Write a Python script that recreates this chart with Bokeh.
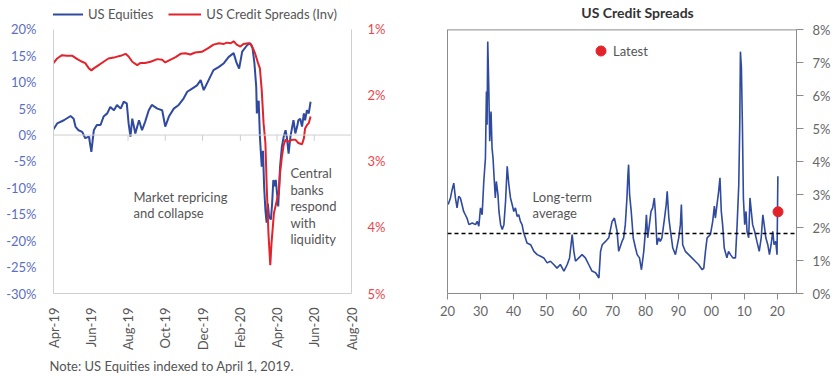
import math
import pandas as pd
from bokeh.plotting import figure
from bokeh.layouts import row
from bokeh.models import (Range1d, LinearAxis, FixedTicker, PrintfTickFormatter,
                          Legend, LegendItem, Label, Span, Title)
from bokeh.embed import file_html
from bokeh.resources import INLINE

FONT = "Lato"
BLUE = "#2f4a9e"
RED = "#e3232b"
GRID_L = "#cfcfcf"
GRID_R = "#8c8c8c"
TXT = "#555555"

# ---------------- data: left chart ----------------
start_date = "2019-04-01"
end_date = "2020-08-01"

eq_days = [0, 6, 17, 28, 33, 36, 41, 47, 52, 58, 62, 66, 71, 77, 82, 88, 93, 99, 104, 110,
           115, 120, 123, 126, 129, 134, 140, 145, 150, 156, 161, 170, 178, 183, 189, 197,
           205, 213, 219, 227, 235, 241, 246, 254, 262, 271, 279, 287, 295, 300, 304, 309,
           317, 322, 326, 329, 332, 333, 336, 338, 341, 343, 345, 347, 349, 351, 353, 356,
           358, 360, 362, 364, 366, 368, 371, 374, 377, 380, 382, 385, 388, 391, 393, 396,
           399, 401, 404, 407, 410, 412, 415, 418, 421]
eq_vals = [1.1, 2.2, 2.8, 3.6, 3.1, 1.6, 0.9, 0.6, -0.6, -0.3, -3.2, 0.9, 1.9, 1.9, 3.5, 4.1,
           5.3, 4.7, 5.7, 5.0, 6.3, 6.0, 2.2, -0.3, 3.1, 0.3, 2.8, 0.9, 2.5, 4.7, 5.7, 5.0,
           4.7, 1.6, 3.5, 5.0, 5.7, 6.9, 8.2, 8.8, 9.4, 10.4, 8.5, 10.4, 12.3, 12.9, 13.6,
           14.8, 15.5, 13.6, 12.6, 15.8, 17.0, 17.4, 16.4, 13.6, 9.1, 4.1, 6.5, -0.3, -6.0,
           -3.0, -10.0, -14.2, -16.6, -13.0, -15.5, -16.0, -13.0, -8.5, -9.7, -8.5, -11.0,
           -13.5, -6.0, -2.2, -0.3, 0.9, -0.3, -3.5, -0.3, 1.6, 2.8, 0.3, 1.6, 2.8, 3.1, 1.6,
           4.1, 2.8, 4.7, 4.1, 6.3]

cs_days = [0, 6, 14, 22, 31, 39, 47, 52, 58, 62, 66, 74, 82, 90, 101, 110, 118, 123, 129,
           137, 142, 150, 159, 170, 178, 183, 191, 200, 208, 216, 224, 232, 243, 254, 262,
           271, 279, 284, 290, 295, 300, 306, 311, 319, 324, 330, 335, 338, 341, 344, 347,
           349, 352, 355, 357, 361, 366, 369, 371, 374, 377, 380, 385, 391, 396, 401, 407,
           410, 412, 415, 418, 421]
cs_vals = [1.51, 1.44, 1.39, 1.40, 1.40, 1.45, 1.49, 1.51, 1.59, 1.62, 1.59, 1.54, 1.49,
           1.44, 1.42, 1.40, 1.37, 1.41, 1.49, 1.54, 1.51, 1.51, 1.49, 1.45, 1.46, 1.50,
           1.46, 1.42, 1.37, 1.36, 1.38, 1.35, 1.34, 1.28, 1.23, 1.21, 1.22, 1.20, 1.21,
           1.18, 1.23, 1.26, 1.22, 1.21, 1.23, 1.36, 1.51, 1.59, 1.92, 2.42, 2.72, 3.33,
           4.09, 4.57, 4.24, 3.78, 3.58, 3.48, 3.18, 2.93, 2.75, 2.67, 2.70, 2.67, 2.67,
           2.72, 2.74, 2.65, 2.50, 2.45, 2.42, 2.32]

month_ticks = ["2019-04-01", "2019-06-01", "2019-08-01", "2019-10-01", "2019-12-01",
               "2020-02-01", "2020-04-01", "2020-06-01", "2020-08-01"]
month_labels = ["Apr-19", "Jun-19", "Aug-19", "Oct-19", "Dec-19", "Feb-20", "Apr-20",
                "Jun-20", "Aug-20"]
eq_ticks = [-30, -25, -20, -15, -10, -5, 0, 5, 10, 15, 20]
cs_ticks = [1, 2, 3, 4, 5]

# ---------------- data: right chart ----------------
hist_years = [1920.2, 1920.9, 1921.4, 1921.9, 1922.4, 1922.9, 1923.4, 1923.9, 1924.4, 1924.9,
              1925.4, 1925.9, 1926.5, 1927.5, 1928.5, 1929.0, 1929.5, 1930.0, 1930.5, 1931.0,
              1931.5, 1931.8, 1932.0, 1932.2, 1932.5, 1932.8, 1933.2, 1933.5, 1933.8, 1934.2,
              1934.5, 1934.8, 1935.3, 1935.6, 1936.1, 1936.6, 1937.1, 1937.6, 1938.1, 1938.6,
              1939.1, 1939.6, 1940.1, 1940.6, 1941.1, 1941.6, 1942.1, 1942.6, 1943.1, 1943.6,
              1944.1, 1945.2, 1946.2, 1947.2, 1948.2, 1949.2, 1950.2, 1951.2, 1952.2, 1953.2,
              1954.2, 1955.3, 1956.3, 1957.0, 1957.8, 1958.3, 1958.8, 1959.8, 1960.8, 1961.8,
              1962.8, 1963.8, 1964.9, 1965.9, 1966.4, 1966.9, 1967.9, 1968.9, 1969.9, 1970.6,
              1971.4, 1971.9, 1972.9, 1973.4, 1973.9, 1974.4, 1974.7, 1974.9, 1975.2, 1975.7,
              1976.3, 1977.0, 1977.5, 1978.2, 1978.8, 1979.5, 1980.0, 1980.3, 1980.7, 1981.2,
              1981.7, 1982.2, 1982.7, 1983.0, 1983.5, 1984.0, 1984.5, 1985.0, 1985.8, 1986.3,
              1986.6, 1987.1, 1987.6, 1988.3, 1989.1, 1990.1, 1990.6, 1990.9, 1991.3, 1992.1,
              1993.1, 1994.1, 1995.1, 1996.1, 1997.2, 1997.7, 1998.2, 1998.7, 1999.7, 2000.4,
              2000.9, 2001.2, 2001.7, 2002.2, 2002.6, 2003.0, 2003.4, 2003.9, 2004.7, 2005.2,
              2005.8, 2006.5, 2007.3, 2007.8, 2008.3, 2008.6, 2008.8, 2009.1, 2009.4, 2009.7,
              2010.1, 2010.5, 2010.8, 2011.3, 2011.7, 2012.1, 2012.5, 2013.1, 2013.8, 2014.5,
              2015.1, 2015.6, 2016.0, 2016.5, 2017.1, 2017.6, 2018.1, 2018.6, 2019.0, 2019.5,
              2019.9, 2020.15]
hist_spread = [2.70, 2.90, 3.15, 3.35, 2.90, 2.60, 2.95, 2.90, 2.70, 2.49,
               2.39, 2.29, 2.09, 2.14, 2.09, 2.19, 2.04, 2.60, 2.39, 3.40,
               4.11, 6.13, 5.12, 7.65, 6.33, 4.62, 5.52, 4.42, 4.11, 3.40,
               2.90, 3.40, 3.00, 2.49, 2.09, 1.94, 2.09, 2.80, 3.86, 3.30,
               2.90, 2.70, 2.49, 2.60, 2.34, 2.39, 2.19, 2.09, 1.84, 1.69,
               1.53, 1.48, 1.28, 1.18, 1.13, 1.08, 0.93, 0.98, 0.88, 0.77,
               0.88, 0.68, 0.88, 1.08, 1.79, 1.28, 0.98, 1.08, 1.18, 1.08,
               0.88, 0.68, 0.63, 0.47, 1.28, 1.48, 1.58, 1.69, 2.19, 2.29,
               1.89, 1.28, 1.58, 1.69, 2.09, 2.90, 3.61, 3.91, 3.00, 2.49,
               1.69, 1.38, 1.18, 1.08, 0.72, 1.28, 1.89, 2.39, 1.69, 2.09,
               2.49, 2.60, 2.90, 2.49, 1.48, 1.69, 1.58, 1.69, 2.29, 2.70,
               3.10, 2.29, 1.89, 1.38, 1.18, 1.69, 2.09, 2.70, 1.48, 1.28,
               1.18, 1.08, 0.98, 0.88, 0.72, 0.77, 1.28, 1.69, 1.79, 2.19,
               2.65, 2.29, 2.70, 3.10, 3.51, 2.49, 2.09, 1.38, 1.08, 1.28,
               1.18, 1.08, 1.08, 2.09, 3.30, 5.12, 7.34, 6.85, 5.12, 2.90,
               2.09, 2.49, 1.89, 1.69, 2.90, 2.49, 2.09, 1.89, 1.58, 1.28,
               1.69, 2.39, 2.09, 1.69, 1.48, 1.18, 1.48, 1.89, 1.48, 1.58,
               1.18, 3.56]
long_term_avg = 1.82
latest_year = [2020.2]
latest_spread = [2.48]
decade_ticks = [1920, 1930, 1940, 1950, 1960, 1970, 1980, 1990, 2000, 2010, 2020]
decade_labels = ["20", "30", "40", "50", "60", "70", "80", "90", "00", "10", "20"]
spread_ticks = [0, 1, 2, 3, 4, 5, 6, 7, 8]


def ms(s):
    return pd.Timestamp(s).value / 1e6


base = pd.Timestamp(start_date)
eq_dates = [base + pd.Timedelta(days=d) for d in eq_days]
cs_dates = [base + pd.Timedelta(days=d) for d in cs_days]
tick_ms = [ms(t) for t in month_ticks]

# The frames run up to the top of the canvas so that the legend / title fit in them;
# the visible axes are limited to the value ranges with `bounds`.
# ---------------- left figure ----------------
p1 = figure(width=420, height=376, x_axis_type="datetime",
            x_range=Range1d(ms(start_date), ms(end_date)), y_range=Range1d(-30, 25.47),
            output_backend="svg", toolbar_location=None,
            min_border_left=53, min_border_right=69, min_border_top=0, min_border_bottom=82)
p1.xgrid.visible = False
p1.ygrid.visible = False
p1.outline_line_color = None
p1.background_fill_color = "white"
p1.border_fill_color = "white"
p1.extra_y_ranges = {"cs": Range1d(start=5, end=0.562)}

ya = p1.yaxis[0]
ya.ticker = FixedTicker(ticks=eq_ticks)
ya.bounds = (eq_ticks[0], eq_ticks[-1])
ya.formatter = PrintfTickFormatter(format="%d%%")
ya.axis_line_color = GRID_L
ya.major_tick_line_color = None
ya.major_tick_out = 0
ya.major_tick_in = 0
ya.minor_tick_line_color = None
ya.major_label_text_color = "#5b6fbf"
ya.major_label_text_font = FONT
ya.major_label_text_font_size = "13px"
ya.major_label_standoff = 17

ra = LinearAxis(y_range_name="cs", ticker=FixedTicker(ticks=cs_ticks),
                formatter=PrintfTickFormatter(format="%d%%"),
                bounds=(cs_ticks[0], cs_ticks[-1]))
ra.axis_line_color = GRID_L
ra.major_tick_line_color = None
ra.major_tick_out = 0
ra.major_tick_in = 0
ra.minor_tick_line_color = None
ra.major_label_text_color = "#e8474f"
ra.major_label_text_font = FONT
ra.major_label_text_font_size = "13px"
ra.major_label_standoff = 16
p1.add_layout(ra, "right")

xa = p1.xaxis[0]
xa.ticker = FixedTicker(ticks=tick_ms)
xa.major_label_overrides = {t: l for t, l in zip(tick_ms, month_labels)}
xa.major_label_orientation = math.pi / 2
xa.axis_line_color = GRID_L
xa.major_tick_line_color = None
xa.major_tick_out = 0
xa.major_tick_in = 0
xa.minor_tick_line_color = None
xa.major_label_text_color = TXT
xa.major_label_text_font = FONT
xa.major_label_text_font_size = "13px"
xa.major_label_standoff = 14

p1.add_layout(Span(location=0, dimension="width", line_color=GRID_L, line_width=1))
p1.segment(x0=tick_ms, x1=tick_ms, y0=[0] * len(tick_ms), y1=[-1.1] * len(tick_ms),
           line_color=GRID_L, line_width=1)

rb = p1.line(eq_dates, eq_vals, line_color=BLUE, line_width=2)
rr = p1.line(cs_dates, cs_vals, y_range_name="cs", line_color=RED, line_width=2)

# legend placed at the top (x, y measured from the frame's bottom-left)
leg = Legend(items=[LegendItem(label="US Equities", renderers=[rb]),
                    LegendItem(label="US Credit Spreads (Inv)", renderers=[rr])],
             orientation="horizontal", location=(-3, 271), glyph_width=33, glyph_height=16,
             label_standoff=5, spacing=15, padding=0, margin=0, border_line_color=None,
             background_fill_alpha=0, label_text_font=FONT, label_text_font_size="13px",
             label_text_color=TXT)
p1.add_layout(leg)

for i, t in enumerate(["Market repricing", "and collapse"]):
    p1.add_layout(Label(x=ms("2019-08-10"), y=-11.7, y_offset=-16.5 * i, text=t,
                        text_font=FONT, text_font_size="13px", text_color=TXT,
                        text_baseline="middle"))
for i, t in enumerate(["Central", "banks", "respond", "with", "liquidity"]):
    p1.add_layout(Label(x=ms("2020-04-23"), y=-7.2, y_offset=-16.5 * i, text=t,
                        text_font=FONT, text_font_size="13px", text_color=TXT,
                        text_baseline="middle"))

p1.add_layout(Title(text="Note: US Equities indexed to April 1, 2019.", align="left",
                    text_font=FONT, text_font_size="13px", text_font_style="normal",
                    text_color=TXT, offset=-4, standoff=5), "below")

# ---------------- right figure ----------------
p2 = figure(width=420, height=376, x_range=Range1d(1920, 2025.8), y_range=Range1d(0, 8.892),
            y_axis_location="right", output_backend="svg", toolbar_location=None,
            min_border_left=27, min_border_right=44, min_border_top=0, min_border_bottom=82)
p2.xgrid.visible = False
p2.ygrid.visible = False
p2.outline_line_color = None
p2.background_fill_color = "white"
p2.border_fill_color = "white"

ya2 = p2.yaxis[0]
ya2.ticker = FixedTicker(ticks=spread_ticks)
ya2.bounds = (spread_ticks[0], spread_ticks[-1])
ya2.formatter = PrintfTickFormatter(format="%d%%")
ya2.axis_line_color = GRID_R
ya2.major_tick_line_color = GRID_R
ya2.major_tick_out = 7
ya2.major_tick_in = 0
ya2.minor_tick_line_color = None
ya2.major_label_text_color = "#666666"
ya2.major_label_text_font = FONT
ya2.major_label_text_font_size = "13px"
ya2.major_label_standoff = 9

# left frame border
la2 = LinearAxis(ticker=FixedTicker(ticks=[]), bounds=(spread_ticks[0], spread_ticks[-1]))
la2.axis_line_color = GRID_R
la2.major_tick_line_color = None
la2.minor_tick_line_color = None
la2.major_tick_out = 0
la2.major_tick_in = 0
la2.major_label_text_font_size = "0px"
p2.add_layout(la2, "left")
# top frame border
p2.add_layout(Span(location=spread_ticks[-1], dimension="width", line_color=GRID_R,
                   line_width=1))

xa2 = p2.xaxis[0]
xa2.ticker = FixedTicker(ticks=decade_ticks)
xa2.major_label_overrides = {t: l for t, l in zip(decade_ticks, decade_labels)}
xa2.axis_line_color = GRID_R
xa2.major_tick_line_color = GRID_R
xa2.major_tick_out = 6
xa2.major_tick_in = 0
xa2.minor_tick_line_color = None
xa2.major_label_text_color = "#666666"
xa2.major_label_text_font = FONT
xa2.major_label_text_font_size = "13px"
xa2.major_label_standoff = 6

p2.add_layout(Span(location=long_term_avg, dimension="width", line_color="black",
                   line_width=1.5, line_dash="4 3"))
p2.line(hist_years, hist_spread, line_color=BLUE, line_width=1.6)
rl = p2.scatter(latest_year, latest_spread, size=10, fill_color=RED, line_color=RED)

leg2 = Legend(items=[LegendItem(label="Latest", renderers=[rl])], location=(141, 230),
              glyph_width=25, glyph_height=25, label_standoff=-3, padding=0, margin=0,
              border_line_color=None, background_fill_alpha=0, label_text_font=FONT,
              label_text_font_size="13px", label_text_color=TXT)
p2.add_layout(leg2)

p2.add_layout(Label(x=1977.6, y=8.53, text="US Credit Spreads", text_font=FONT,
                    text_font_size="14px", text_font_style="bold", text_color="#333333",
                    text_align="center", text_baseline="middle"))

for i, t in enumerate(["Long-term", "average"]):
    p2.add_layout(Label(x=1945.8, y=2.94, y_offset=-16.5 * i, text=t, text_font=FONT,
                        text_font_size="13px", text_color=TXT, text_baseline="middle"))

layout = row(p1, p2)
open("out.html", "w").write(file_html(layout, INLINE))
